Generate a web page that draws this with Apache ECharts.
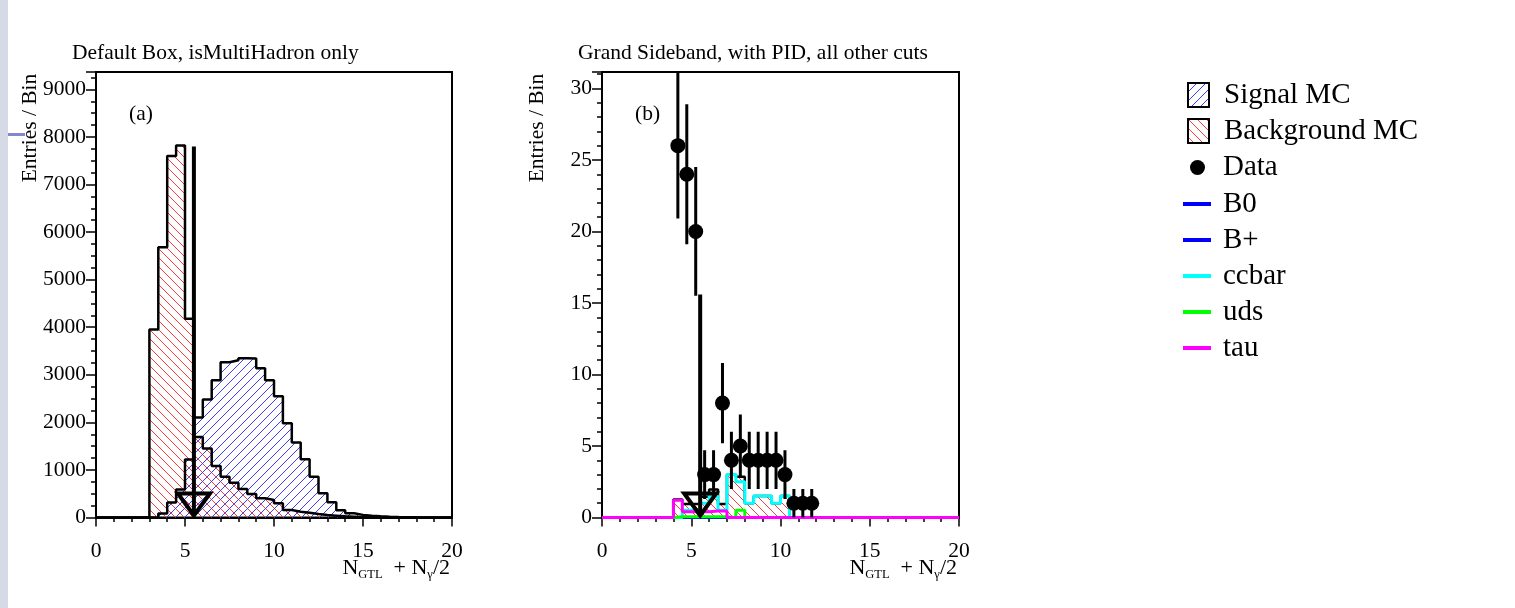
<!DOCTYPE html>
<html>
<head>
<meta charset="utf-8">
<script src="https://cdn.jsdelivr.net/npm/echarts@6/dist/echarts.min.js"></script>
<style>
  html, body { margin: 0; padding: 0; background: #fff; }
  #chart { width: 1515px; height: 608px; }
</style>
</head>
<body>
<div id="chart"></div>
<script>
// bins of 0.5 from 0 to 20 (40 bins)
const binWidth = 0.5;

// (a) Default Box, isMultiHadron only
const signalA = [0, 0, 0, 0, 0, 0, 0, 85, 315, 590, 1220, 2100, 2480, 2885, 3265, 3305, 3350, 3340, 3135, 2885,
  2550, 1980, 1575, 1225, 858, 510, 320, 150, 90, 55, 38, 25, 15, 10, 6, 3, 1, 0, 0, 0];
const backgroundA = [0, 0, 0, 0, 0, 0, 3950, 5680, 7600, 7820, 4180, 1690, 1450, 1085, 855, 730, 600, 495, 403, 368,
  298, 158, 123, 102, 74, 53, 39, 25, 18, 11, 7, 4, 2, 1, 0, 0, 0, 0, 0, 0];

// (b) Grand Sideband, with PID, all other cuts
const backgroundB = [0, 0, 0, 0, 0, 0, 0, 0, 1.25, 0.95, 0.95, 1.45, 1.95, 0.95, 3.0, 2.85, 1.0, 1.5, 1.5, 1.0,
  1.5, 0, 0, 0, 0, 0, 0, 0, 0, 0, 0, 0, 0, 0, 0, 0, 0, 0, 0, 0];
const b0B = [0, 0, 0, 0, 0, 0, 0, 0, 0, 0, 0, 0, 0, 0, 0, 0, 0, 0, 0, 0,
  0, 0, 0, 0, 0, 0, 0, 0, 0, 0, 0, 0, 0, 0, 0, 0, 0, 0, 0, 0];
const bplusB = [0, 0, 0, 0, 0, 0, 0, 0, 0, 0, 0, 0, 0, 0, 0, 0, 0, 0, 0, 0,
  0, 0, 0, 0, 0, 0, 0, 0, 0, 0, 0, 0, 0, 0, 0, 0, 0, 0, 0, 0];
const ccbarB = [0, 0, 0, 0, 0, 0, 0, 0, 0, 0.5, 0.5, 1.0, 1.5, 0.5, 3.0, 2.5, 1.0, 1.5, 1.5, 1.0,
  1.5, 0, 0, 0, 0, 0, 0, 0, 0, 0, 0, 0, 0, 0, 0, 0, 0, 0, 0, 0];
const udsB = [0, 0, 0, 0, 0, 0, 0, 0, 0.05, 0.05, 0.05, 0.05, 0.05, 0.05, 0, 0.5, 0, 0, 0, 0,
  0, 0, 0, 0, 0, 0, 0, 0, 0, 0, 0, 0, 0, 0, 0, 0, 0, 0, 0, 0];
const tauB = [0, 0, 0, 0, 0, 0, 0, 0, 1.2, 0.4, 0.4, 0.4, 0.45, 0.45, 0, 0, 0, 0, 0, 0,
  0, 0, 0, 0, 0, 0, 0, 0, 0, 0, 0, 0, 0, 0, 0, 0, 0, 0, 0, 0];

// data points (b)
const dataX = [4.25, 4.75, 5.25, 5.75, 6.25, 6.75, 7.25, 7.75, 8.25, 8.75, 9.25, 9.75, 10.25, 10.75, 11.25, 11.75];
const dataY = [26, 24, 20, 3, 3, 8, 4, 5, 4, 4, 4, 4, 3, 1, 1, 1];
const dataErr = [5.1, 4.9, 4.5, 1.7, 1.7, 2.8, 2, 2.2, 2, 2, 2, 2, 1.7, 1, 1, 1];

// cut arrow
const cutX = 5.5;
const cutTopA = 7800;
const cutTopB = 15.6;

const xTicks = ['0', '5', '10', '15', '20'];

const serif = 'Liberation Serif';
const textFont = '21.5px "Liberation Serif"';

function hatch(color, slash) {
    const c = document.createElement('canvas');
    c.width = 9;
    c.height = 9;
    const g = c.getContext('2d');
    g.strokeStyle = color;
    g.lineWidth = 1;
    g.beginPath();
    if (slash) {
        g.moveTo(0, 9); g.lineTo(9, 0);
        g.moveTo(-1, 1); g.lineTo(1, -1);
        g.moveTo(8, 10); g.lineTo(10, 8);
    } else {
        g.moveTo(0, 0); g.lineTo(9, 9);
        g.moveTo(-1, 8); g.lineTo(1, 10);
        g.moveTo(8, -1); g.lineTo(10, 1);
    }
    g.stroke();
    return {image: c, repeat: 'repeat'};
}
const signalFill = hatch('#3c3cff', true);
const bkgFill = hatch('#ff3c3c', false);

function steps(vals) {
    const pts = vals.map((v, i) => [i * binWidth, v]);
    pts.push([vals.length * binWidth, 0]);
    return pts;
}

function histo(name, vals, idx, color, width, fill) {
    const s = {
        name: name,
        type: 'line',
        xAxisIndex: idx,
        yAxisIndex: idx,
        step: 'end',
        data: steps(vals),
        symbol: 'none',
        silent: true,
        lineStyle: {color: color, width: width},
        itemStyle: {color: color},
        emphasis: {disabled: true}
    };
    if (fill) s.areaStyle = {color: fill, opacity: 1};
    return s;
}

function cutArrow(idx, top) {
    return {
        type: 'custom',
        xAxisIndex: idx,
        yAxisIndex: idx,
        silent: true,
        clip: false,
        z: 5,
        data: [[cutX, top]],
        encode: {x: 0, y: 1},
        renderItem: function (params, api) {
            const t = api.coord([api.value(0), api.value(1)]);
            const b = api.coord([api.value(0), 0]);
            const by = b[1] - 2;
            return {
                type: 'group',
                children: [
                    {type: 'line', shape: {x1: t[0], y1: t[1], x2: b[0], y2: by}, style: {stroke: '#000', lineWidth: 4}},
                    {
                        type: 'polygon',
                        shape: {points: [[b[0] - 16, by - 22], [b[0] + 16, by - 22], [b[0], by]]},
                        style: {fill: 'none', stroke: '#000', lineWidth: 4, lineJoin: 'miter'}
                    }
                ]
            };
        }
    };
}

const xName = '{n|N}{s|GTL}{n|  + N}{s|γ}{n|/2}';

function xAxisCfg(idx) {
    return {
        type: 'value',
        gridIndex: idx,
        min: 0,
        max: 20,
        interval: 5,
        name: xName,
        nameLocation: 'end',
        nameGap: -2,
        nameMoveOverlap: false,
        nameTextStyle: {
            align: 'right',
            verticalAlign: 'top',
            padding: [37, 0, 0, 0],
            rich: {
                n: {fontFamily: serif, fontSize: 22, color: '#000'},
                s: {fontFamily: serif, fontSize: 12.5, color: '#000', padding: [14, 0, 0, 0]}
            }
        },
        axisLine: {show: true, onZero: false, lineStyle: {color: '#000', width: 2}},
        axisTick: {show: true, inside: false, length: 9, lineStyle: {color: '#000', width: 1.5}},
        minorTick: {show: true, splitNumber: 5, length: 4.5, lineStyle: {color: '#000', width: 1.5}},
        axisLabel: {
            color: '#000', fontFamily: serif, fontSize: 21.5, margin: 23,
            formatter: v => xTicks[v / 5] || ''
        },
        splitLine: {show: false},
        minorSplitLine: {show: false}
    };
}

function yAxisCfg(idx, max, interval, minor) {
    return {
        type: 'value',
        gridIndex: idx,
        min: 0,
        max: max,
        interval: interval,
        axisLine: {show: true, onZero: false, lineStyle: {color: '#000', width: 2}},
        axisTick: {show: true, inside: false, length: 10, lineStyle: {color: '#000', width: 1.5}},
        minorTick: {show: true, splitNumber: minor, length: 5, lineStyle: {color: '#000', width: 1.5}},
        axisLabel: {
            color: '#000', fontFamily: serif, fontSize: 21.5, margin: 10,
            formatter: v => (v % interval === 0 ? String(v) : '')
        },
        splitLine: {show: false},
        minorSplitLine: {show: false}
    };
}

const legendText = {fontFamily: serif, fontSize: 29, color: '#000', lineHeight: 36};

const option = {
    animation: false,
    backgroundColor: '#fff',
    grid: [
        {left: 96, top: 72, width: 356, height: 445.5, show: true, borderColor: '#000', borderWidth: 2, outerBoundsMode: 'none'},
        {left: 602, top: 72, width: 357, height: 445.5, show: true, borderColor: '#000', borderWidth: 2, outerBoundsMode: 'none'}
    ],
    xAxis: [xAxisCfg(0), xAxisCfg(1)],
    yAxis: [yAxisCfg(0, 9365, 1000, 4), yAxisCfg(1, 31.15, 5, 5)],
    legend: [
        {
            left: 1187, top: 77, orient: 'vertical', padding: 0, itemGap: 0,
            itemWidth: 21, itemHeight: 24, selectedMode: false,
            textStyle: Object.assign({}, legendText, {padding: [0, 0, 0, 10]}),
            data: [
                {name: 'Signal MC', icon: 'rect', itemStyle: {color: signalFill, borderColor: '#000', borderWidth: 2}},
                {name: 'Background MC', icon: 'rect', itemStyle: {color: bkgFill, borderColor: '#000', borderWidth: 2}}
            ]
        },
        {
            left: 1190, top: 149.5, orient: 'vertical', padding: 0, itemGap: 0,
            itemWidth: 15, itemHeight: 15, selectedMode: false,
            textStyle: Object.assign({}, legendText, {padding: [0, 0, 0, 13]}),
            data: [{name: 'Data', icon: 'circle', itemStyle: {color: '#000', borderWidth: 0}}]
        },
        {
            left: 1183, top: 186, orient: 'vertical', padding: 0, itemGap: 0,
            itemWidth: 28, itemHeight: 4, selectedMode: false,
            textStyle: Object.assign({}, legendText, {padding: [0, 0, 0, 7]}),
            data: [
                {name: 'B0', icon: 'rect', itemStyle: {color: '#0000ff', borderWidth: 0}},
                {name: 'B+', icon: 'rect', itemStyle: {color: '#0000ff', borderWidth: 0}},
                {name: 'ccbar', icon: 'rect', itemStyle: {color: '#00ffff', borderWidth: 0}},
                {name: 'uds', icon: 'rect', itemStyle: {color: '#00ff00', borderWidth: 0}},
                {name: 'tau', icon: 'rect', itemStyle: {color: '#ff00ff', borderWidth: 0}}
            ]
        }
    ],
    graphic: [
        // slide edge
        {type: 'rect', left: 0, top: 0, shape: {width: 8, height: 608}, style: {fill: '#d6dae7'}, silent: true},
        {type: 'rect', left: 8, top: 133, shape: {width: 17, height: 3}, style: {fill: '#8486d2'}, silent: true},
        // panel titles
        {type: 'text', x: 72, y: 53, style: {text: 'Default Box, isMultiHadron only', font: textFont, fill: '#000', align: 'left', verticalAlign: 'middle'}},
        {type: 'text', x: 578, y: 53, style: {text: 'Grand Sideband, with PID, all other cuts', font: textFont, fill: '#000', align: 'left', verticalAlign: 'middle'}},
        {type: 'text', x: 129, y: 114, style: {text: '(a)', font: textFont, fill: '#000', align: 'left', verticalAlign: 'middle'}},
        {type: 'text', x: 635, y: 114, style: {text: '(b)', font: textFont, fill: '#000', align: 'left', verticalAlign: 'middle'}},
        {type: 'text', x: 30, y: 128, rotation: Math.PI / 2, style: {text: 'Entries / Bin', font: textFont, fill: '#000', align: 'center', verticalAlign: 'middle'}},
        {type: 'text', x: 537, y: 128, rotation: Math.PI / 2, style: {text: 'Entries / Bin', font: textFont, fill: '#000', align: 'center', verticalAlign: 'middle'}}
    ],
    series: [
        histo('Background MC', backgroundA, 0, '#000', 2.5, bkgFill),
        histo('Signal MC', signalA, 0, '#000', 2.5, signalFill),
        cutArrow(0, cutTopA),

        histo('Background MC', backgroundB, 1, '#000', 2.5, bkgFill),
        histo('B0', b0B, 1, '#0000ff', 3),
        histo('B+', bplusB, 1, '#0000ff', 3),
        histo('ccbar', ccbarB, 1, '#00ffff', 3),
        histo('uds', udsB, 1, '#00ff00', 3),
        histo('tau', tauB, 1, '#ff00ff', 3),
        {
            name: 'Data',
            type: 'custom',
            xAxisIndex: 1,
            yAxisIndex: 1,
            silent: true,
            clip: true,
            z: 4,
            itemStyle: {color: '#000'},
            data: dataX.map((x, i) => [x, dataY[i], dataErr[i]]),
            encode: {x: 0, y: 1},
            renderItem: function (params, api) {
                const p = api.coord([api.value(0), api.value(1)]);
                const hi = api.coord([api.value(0), api.value(1) + api.value(2)]);
                const lo = api.coord([api.value(0), api.value(1) - api.value(2)]);
                return {
                    type: 'group',
                    children: [
                        {type: 'line', shape: {x1: p[0], y1: hi[1], x2: p[0], y2: lo[1]}, style: {stroke: '#000', lineWidth: 3}},
                        {type: 'circle', shape: {cx: p[0], cy: p[1], r: 7.5}, style: {fill: '#000'}}
                    ]
                };
            }
        },
        cutArrow(1, cutTopB)
    ]
};

const chart = echarts.init(document.getElementById('chart'), null, {renderer: 'canvas'});
chart.setOption(option);
window.addEventListener('resize', function () {
    chart.resize();
});
</script>
</body>
</html>
